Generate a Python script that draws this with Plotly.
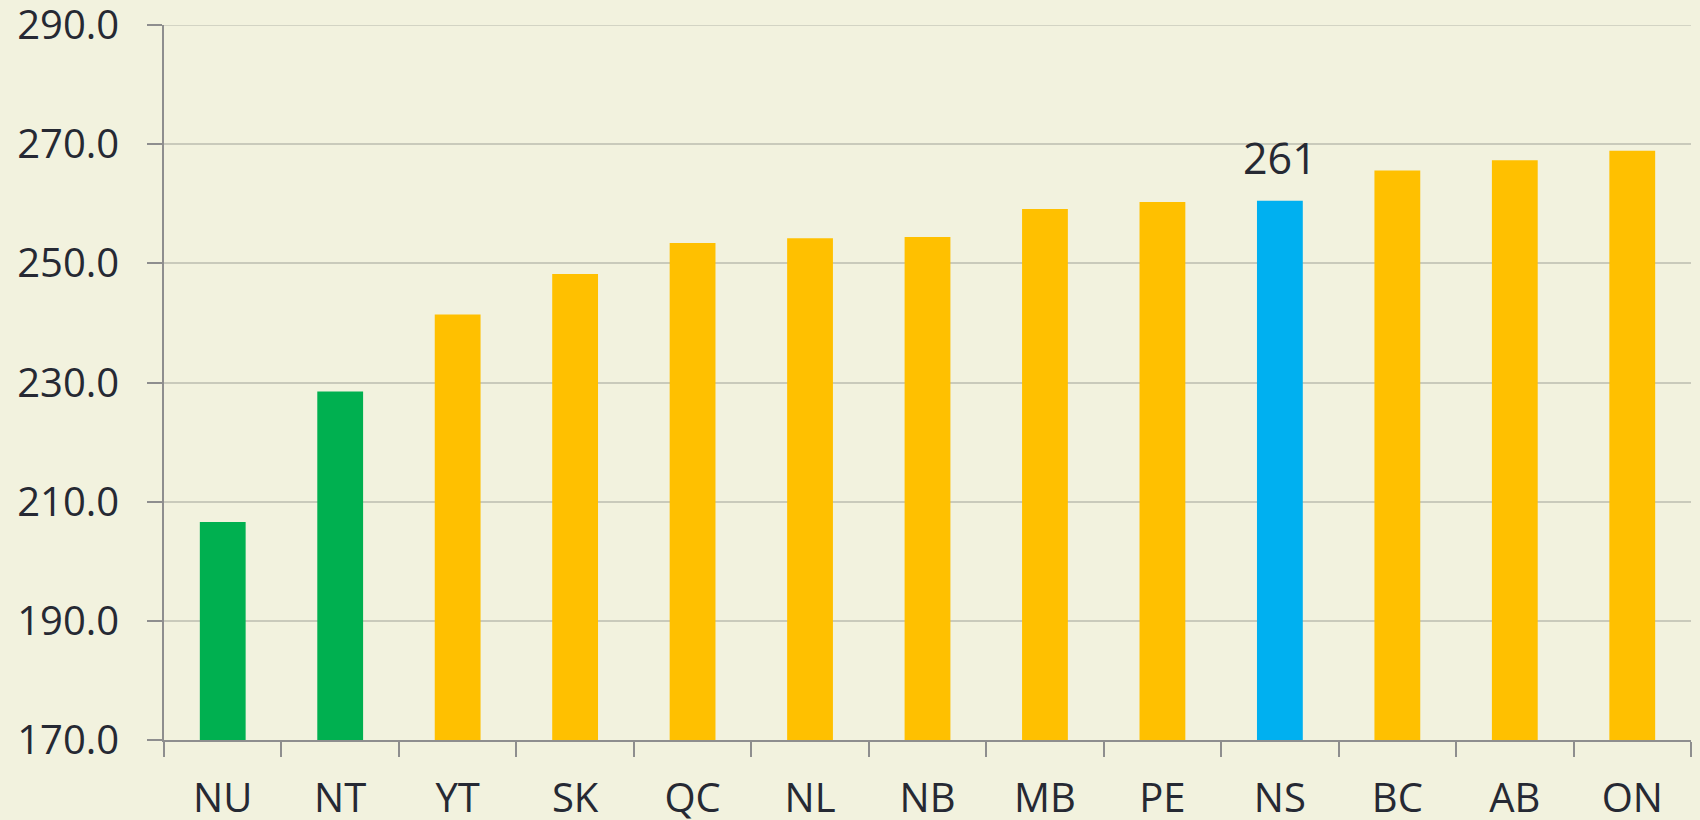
import plotly.graph_objects as go

# Provincial / territorial scores, sorted ascending
provinces = ["NU", "NT", "YT", "SK", "QC", "NL", "NB", "MB", "PE", "NS", "BC", "AB", "ON"]
scores = [206.6, 228.5, 241.4, 248.2, 253.4, 254.2, 254.4, 259.1, 260.3, 260.5, 265.6, 267.3, 268.9]
groups = ["low", "low", "mid", "mid", "mid", "mid", "mid", "mid", "mid", "focus", "mid", "mid", "mid"]

y_ticks = [170, 190, 210, 230, 250, 270, 290]

highlight = "NS"
highlight_label = "261"

group_colors = {"low": "#00B050", "mid": "#FFC000", "focus": "#00B0F0"}
bar_colors = [group_colors[g] for g in groups]

bg = "#F2F2DE"
text_color = "#262933"
axis_color = "#8E8E8E"
grid_color = "#C9CABB"
font_family = "Open Sans, Noto Sans, DejaVu Sans, sans-serif"

fig = go.Figure(
    go.Bar(
        x=provinces,
        y=scores,
        marker=dict(color=bar_colors, line=dict(width=0)),
        width=0.39,
        hoverinfo="x+y",
    )
)

fig.add_annotation(
    x=highlight,
    y=scores[provinces.index(highlight)],
    text=highlight_label,
    showarrow=False,
    yanchor="bottom",
    yshift=12,
    font=dict(size=43, color=text_color, family=font_family),
)

# top gridline at the upper end of the value range
fig.add_shape(
    type="line",
    xref="paper",
    yref="y",
    x0=0,
    x1=1,
    y0=y_ticks[-1],
    y1=y_ticks[-1],
    line=dict(color=grid_color, width=1.5),
    layer="below",
)

fig.update_layout(
    width=1700,
    height=820,
    margin=dict(l=164, r=9, t=25, b=80, autoexpand=False),
    paper_bgcolor=bg,
    plot_bgcolor=bg,
    showlegend=False,
    font=dict(family=font_family, color=text_color, size=40),
    bargap=0.61,
)

fig.update_xaxes(
    type="category",
    showline=True,
    linecolor=axis_color,
    linewidth=1.5,
    ticks="outside",
    tickson="boundaries",
    ticklen=15,
    tickwidth=1.5,
    tickcolor=axis_color,
    showgrid=False,
    tickfont=dict(size=40, color=text_color),
    ticklabelstandoff=22,
    automargin=False,
    ticklabeloverflow="allow",
)

fig.update_yaxes(
    range=[170, 290],
    tickmode="array",
    tickvals=y_ticks,
    ticktext=[f"{v:.1f}" for v in y_ticks],
    showline=True,
    linecolor=axis_color,
    linewidth=1.5,
    ticks="outside",
    ticklen=15,
    tickwidth=1.5,
    tickcolor=axis_color,
    showgrid=True,
    gridcolor=grid_color,
    gridwidth=1.5,
    zeroline=False,
    tickfont=dict(size=40, color=text_color),
    ticklabelstandoff=20,
    automargin=False,
    ticklabeloverflow="allow",
)

fig.write_html("out.html")
